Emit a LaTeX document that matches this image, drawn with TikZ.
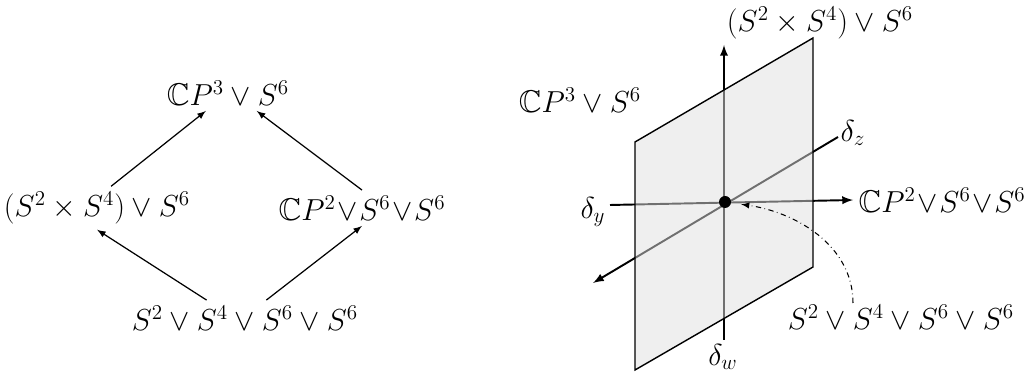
\documentclass[tikz,border=0pt]{standalone}
\usepackage{amssymb}
\usetikzlibrary{arrows}
\tikzset{
  space/.style={inner sep=3pt,font=\fontsize{17.9}{22}\selectfont},
  mapto/.style={->,line width=0.7pt},
  axis/.style={->,line width=1.1pt},
  plane/.style={draw,line width=0.8pt,fill=black!12,fill opacity=0.5,draw opacity=1}
}
\newcommand{\tv}{\mskip1mu{\vee}\mskip1mu}

\begin{document}
\begin{tikzpicture}[>=latex,x=0.02cm,y=-0.02cm]
        \useasboundingbox (0,0) rectangle (1031,377);
        % the poset of wedges
        \node[space] (top) at (228,93) {$\mathbb{C}P^3\vee S^6$};
        \node[space] (lmid) at (97,208) {$(S^2\times S^4)\vee S^6$};
        \node[space] (rmid) at (362,208) {$\mathbb{C}P^2\tv S^6\tv S^6$};
        \node[space] (bot) at (245,318) {$S^2\vee S^4\vee S^6\vee S^6$};
        \path[mapto]
          (lmid.57) edge (top.219)
          (rmid.north) edge (top.-32)
          (bot.155) edge (lmid.south)
          (bot.40) edge (rmid.south);
        % the same spaces seen in the plane
        \node[space] (pprod) at (820,23) {$(S^2\times S^4)\vee S^6$};
        \node[space] (pcp3) at (580,100) {$\mathbb{C}P^3\vee S^6$};
        \node[space,anchor=west] (pcp2) at (853,200) {$\mathbb{C}P^2\tv S^6\tv S^6$};
        \node[space] (pwedge) at (901,317) {$S^2\vee S^4\vee S^6\vee S^6$};
        \node[space] (dy) at (593,212) {$\delta_y$};
        \node[space] (dz) at (853,133) {$\delta_z$};
        \node[space] (dw) at (723,357) {$\delta_w$};
        \coordinate (wb) at (724,340);
        \coordinate (wt) at (724,45);
        \coordinate (yl) at (610,205);
        \coordinate (zr) at (838,137);
        \coordinate (zl) at (593,283);
        \coordinate (ws) at (853,303);
        \draw[axis] (wb) -- (wt);
        \draw[axis] (yl) -- (pcp2.west);
        \draw[axis] (zr) -- (zl);
        \draw[plane] (635,142) -- (813,38) -- (813,267) -- (635,370) -- cycle;
        \node[circle,fill,inner sep=0pt,minimum size=0.24cm] (dot) at (725,202) {};
        \draw[->,dash dot,line width=0.6pt,shorten >=0.2cm]
          (ws) .. controls (853,245) and (795,212) .. (dot);
      \end{tikzpicture}
\end{document}
